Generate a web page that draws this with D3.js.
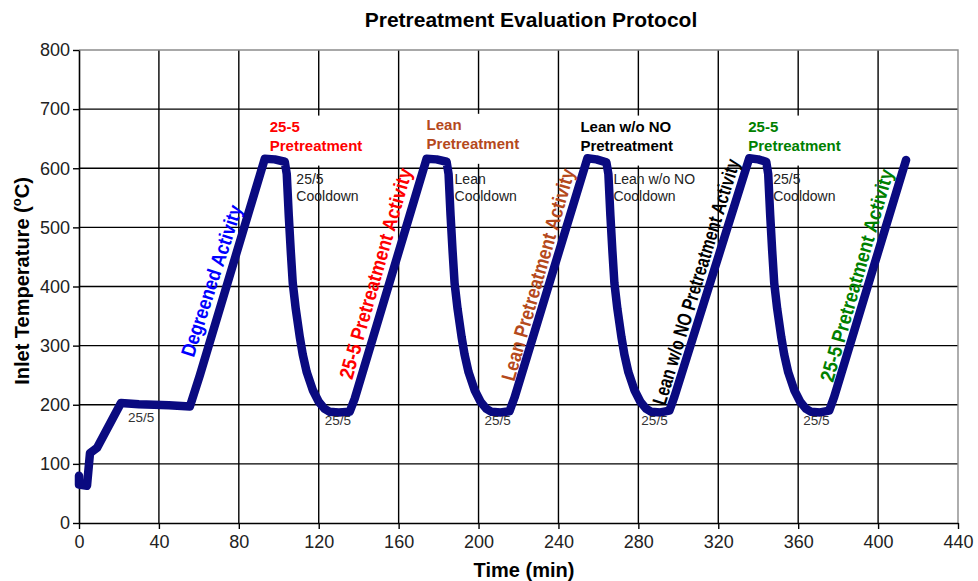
<!DOCTYPE html>
<html>
<head>
<meta charset="utf-8">
<script src="https://cdn.jsdelivr.net/npm/d3@7"></script>
<style>
body{margin:0;background:#fff;}
svg text{font-family:"Liberation Sans", Arial, sans-serif;}
</style>
</head>
<body>
<div id="chart"></div>
<script>
let width = 978,
    height = 581

// DATA
const xTicks = [0, 40, 80, 120, 160, 200, 240, 280, 320, 360, 400, 440]
const yTicks = [0, 100, 200, 300, 400, 500, 600, 700, 800]

const timeMin = [0, 0, 4, 5.5, 9, 21, 30, 45, 55.5, 60.5, 93, 98, 103,
    104, 105, 106, 107, 108.5, 110.5, 112, 114, 117, 120, 123, 125.5, 130, 135.5, 138,
    174, 179, 184,
    185, 186, 187, 188, 189.5, 191.5, 193, 195, 198, 201, 204, 206.5, 211, 215.5, 218,
    254.5, 259, 264,
    265, 266, 267, 268, 269.5, 271.5, 273, 275, 278, 281, 284, 286.5, 291, 295.5, 298,
    335.5, 340, 344,
    345, 346, 347, 348, 349.5, 351.5, 353, 355, 358, 361, 364, 366.5, 371, 375.5, 378,
    414]
const inletTemp = [80, 65, 63, 118, 127, 203, 201, 199, 197, 250, 616, 615, 611,
    590, 520, 460, 406, 362, 315, 285, 255, 225, 205, 193, 188, 187, 188, 210,
    616, 615, 611,
    590, 520, 460, 406, 362, 315, 285, 255, 225, 205, 193, 188, 187, 189, 212,
    617, 615, 610,
    590, 520, 460, 406, 362, 315, 285, 255, 225, 205, 193, 188, 187, 190, 213,
    617, 615, 611,
    590, 520, 460, 406, 362, 315, 285, 255, 225, 205, 193, 188, 187, 190, 213,
    614]

// labels above each peak
const phaseNames = [["25-5", "Pretreatment"], ["Lean", "Pretreatment"], ["Lean w/o NO", "Pretreatment"], ["25-5", "Pretreatment"]]
const phaseTime = [95.5, 174, 251, 335]
const phaseTemp = [662, 665, 662, 662]
const cooldownNames = [["25/5", "Cooldown"], ["Lean", "Cooldown"], ["Lean w/o NO", "Cooldown"], ["25/5", "Cooldown"]]
const cooldownTime = [108.8, 188, 267.5, 347.5]
const cooldownTemp = [574, 574, 574, 574]
const holdNames = ["25/5", "25/5", "25/5", "25/5", "25/5"]
const holdTime = [24.5, 123, 203, 281.5, 362.5]
const holdTemp = [171, 166, 166, 166, 166]
const activityNames = ["Degreened Activity", "25-5 Pretreatment Activity", "Lean Pretreatment Activity",
    "Lean w/o NO Pretreatment Activity", "25-5 Pretreatment Activity"]
const activityTime = [66.3, 148.4, 229.7, 308.8, 389.3]
const activityTemp = [410, 422, 420, 408, 419]

// STYLE
const phaseColors = ["#ff0000", "#b5491c", "#000000", "#008000"]
const activityColors = ["#0000ff", "#ff0000", "#b5491c", "#000000", "#008000"]
const activityAngle = [-72, -74, -74, -73, -74]
const activityLength = [158, 218, 220, 256, 220]

let svg = d3.select("#chart").append("svg")
    .attr("width", width)
    .attr("height", height)

let x = d3.scaleLinear().domain([0, 440]).range([79, 958]),
    y = d3.scaleLinear().domain([0, 800]).range([523, 50])

//GRID
let grid = svg.append("g").attr("class", "grid")
grid.selectAll(".hgrid")
    .data(yTicks.filter(d => d > 0 && d < 800))
    .enter().append("line")
    .attr("x1", x(0)).attr("x2", x(440))
    .attr("y1", d => y(d)).attr("y2", d => y(d))
    .attr("stroke", "#000").attr("stroke-width", 1.4)
grid.selectAll(".vgrid")
    .data(xTicks.filter(d => d > 0 && d < 440))
    .enter().append("line")
    .attr("x1", d => x(d)).attr("x2", d => x(d))
    .attr("y1", y(0)).attr("y2", y(800))
    .attr("stroke", "#000").attr("stroke-width", 1.4)
// plot border top/right
grid.append("path")
    .attr("d", "M" + x(0) + "," + y(800) + "H" + x(440) + "V" + y(0))
    .attr("fill", "none").attr("stroke", "#8c8c8c").attr("stroke-width", 1.4)

//AXES
svg.append("g")
    .attr("transform", "translate(0," + y(0) + ")")
    .call(d3.axisBottom(x).tickValues(xTicks).tickSize(6).tickPadding(6).tickSizeOuter(0))
svg.append("g")
    .attr("transform", "translate(" + x(0) + ",0)")
    .call(d3.axisLeft(y).tickValues(yTicks).tickSize(6).tickPadding(3).tickSizeOuter(0))
svg.selectAll(".domain").attr("stroke", "#000").attr("stroke-width", 1.6)
svg.selectAll(".tick line").attr("stroke", "#000").attr("stroke-width", 1.4)
svg.selectAll(".tick text")
    .attr("font-size", 18)
    .attr("font-family", "Liberation Sans, Arial, sans-serif")
    .attr("fill", "#222")

//TITLES
svg.append("text")
    .attr("x", 531).attr("y", 27)
    .attr("text-anchor", "middle")
    .attr("font-size", 21).attr("font-weight", "bold")
    .text("Pretreatment Evaluation Protocol")
svg.append("text")
    .attr("x", 524).attr("y", 577)
    .attr("text-anchor", "middle")
    .attr("font-size", 20).attr("font-weight", "bold")
    .text("Time (min)")
let ylab = svg.append("text")
    .attr("transform", "translate(29,281) rotate(-90)")
    .attr("text-anchor", "middle")
    .attr("font-size", 20).attr("font-weight", "bold")
ylab.append("tspan").text("Inlet Temperature (")
ylab.append("tspan").attr("font-size", 13).attr("dy", -8).text("o")
ylab.append("tspan").attr("dy", 8).text("C)")

//PHASE LABELS (white boxes)
let phases = svg.append("g").selectAll("g")
    .data(phaseNames)
    .enter().append("g")
phases.each(function (d, i) {
    let g = d3.select(this)
    let t = g.append("text")
        .attr("x", x(phaseTime[i])).attr("y", y(phaseTemp[i]))
        .attr("font-size", 15).attr("font-weight", "bold")
        .attr("fill", phaseColors[i])
    d.forEach((line, k) => t.append("tspan")
        .attr("x", x(phaseTime[i])).attr("dy", k === 0 ? 0 : 19).text(line))
    let b = t.node().getBBox()
    g.insert("rect", "text")
        .attr("x", b.x - 5).attr("y", b.y - 2)
        .attr("width", b.width + 10).attr("height", b.height + 14)
        .attr("fill", "#fff")
})

//CURVE
let points = timeMin.map((t, i) => [t, inletTemp[i]])
svg.append("path")
    .datum(points)
    .attr("d", d3.line().x(d => x(d[0])).y(d => y(d[1])))
    .attr("fill", "none")
    .attr("stroke", "#0a0a80")
    .attr("stroke-width", 8.5)
    .attr("stroke-linejoin", "round")
    .attr("stroke-linecap", "round")

//COOLDOWN LABELS
cooldownNames.forEach((d, i) => {
    let t = svg.append("text")
        .attr("x", x(cooldownTime[i])).attr("y", y(cooldownTemp[i]))
        .attr("font-size", 14).attr("fill", "#222")
    d.forEach((line, k) => t.append("tspan")
        .attr("x", x(cooldownTime[i])).attr("dy", k === 0 ? 0 : 17).text(line))
})
holdNames.forEach((d, i) => {
    svg.append("text")
        .attr("x", x(holdTime[i])).attr("y", y(holdTemp[i]))
        .attr("font-size", 13.5).attr("fill", "#333")
        .text(d)
})

//ACTIVITY LABELS
activityNames.forEach((d, i) => {
    svg.append("text")
        .attr("transform", "translate(" + x(activityTime[i]) + "," + y(activityTemp[i]) + ") rotate(" + activityAngle[i] + ")")
        .attr("text-anchor", "middle")
        .attr("dy", "0.35em")
        .attr("font-size", 20).attr("font-weight", "bold")
        .attr("textLength", activityLength[i])
        .attr("lengthAdjust", "spacingAndGlyphs")
        .attr("fill", activityColors[i])
        .text(d)
})
</script>
</body>
</html>
